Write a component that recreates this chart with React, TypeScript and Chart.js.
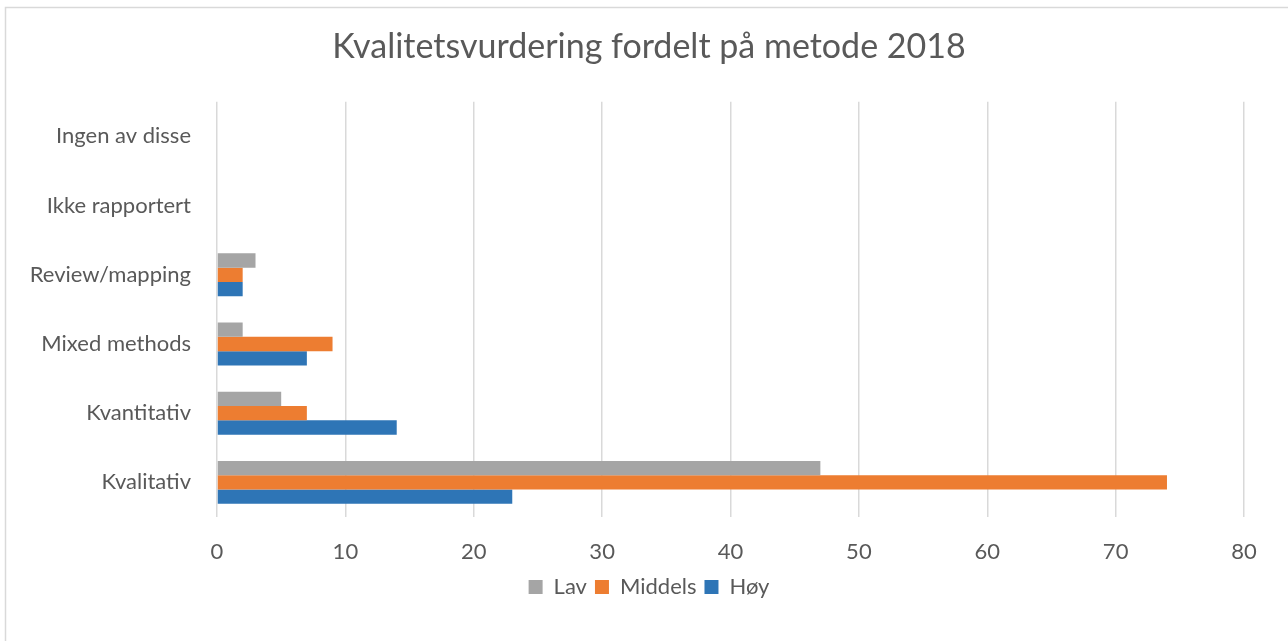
import React, { useEffect, useRef } from "react";
import { Chart, registerables } from "chart.js";

Chart.register(...registerables);

const categories = ["Ingen av disse", "Ikke rapportert", "Review/mapping", "Mixed methods", "Kvantitativ", "Kvalitativ"];
const lavValues = [0, 0, 3, 2, 5, 47];
const middelsValues = [0, 0, 2, 9, 7, 74];
const hoyValues = [0, 0, 2, 7, 14, 23];
const seriesNames = ["Lav", "Middels", "Høy"];
const seriesColors = ["#A5A5A5", "#ED7D31", "#2E75B6"];
const titleText = "Kvalitetsvurdering fordelt på metode 2018";
const xMax = 80;
const xStep = 10;

const FONT = "Lato, 'Open Sans', sans-serif";
const TEXT = "#595959";
const CANVAS_W = 1298;

const frame = {
  id: "frame",
  beforeDraw(chart: any) {
    const ctx = chart.ctx;
    ctx.save();
    ctx.fillStyle = "#ffffff";
    ctx.fillRect(0, 0, chart.width, chart.height);
    ctx.strokeStyle = "#D9D9D9";
    ctx.lineWidth = 1.5;
    ctx.beginPath();
    ctx.moveTo(5.5, chart.height);
    ctx.lineTo(5.5, 7.5);
    ctx.lineTo(chart.width, 7.5);
    ctx.stroke();
    ctx.restore();
  },
};

export default function App() {
  const ref = useRef<HTMLCanvasElement>(null);
  useEffect(() => {
    if (!ref.current) return;
    const chart = new Chart(ref.current, {
      type: "bar",
      data: {
        labels: categories,
        datasets: [lavValues, middelsValues, hoyValues].map((d, i) => ({
          label: seriesNames[i],
          data: d,
          backgroundColor: seriesColors[i],
          borderWidth: 0,
          barPercentage: 1,
          categoryPercentage: 0.62,
        })),
      },
      plugins: [frame],
      options: {
        indexAxis: "y",
        animation: false,
        responsive: false,
        maintainAspectRatio: false,
        layout: { padding: { left: 0, right: 0, top: 0, bottom: 33 } },
        plugins: {
          title: {
            display: true,
            text: titleText,
            color: TEXT,
            font: { family: FONT, size: 34, weight: "normal" },
            padding: { top: 27, bottom: 34 },
          },
          legend: {
            position: "bottom",
            labels: {
              color: TEXT,
              font: { family: FONT, size: 22 },
              boxWidth: 14,
              boxHeight: 14,
              padding: 8,
            },
          },
          tooltip: { enabled: false },
        },
        scales: {
          x: {
            min: 0,
            max: xMax,
            ticks: { stepSize: xStep, color: TEXT, font: { family: FONT, size: 22 }, padding: 22 },
            grid: { color: "#D9D9D9", lineWidth: 1.5, drawTicks: false },
            border: { display: false },
            afterFit: (s: any) => {
              s.height = 51;
            },
          },
          y: {
            ticks: { color: TEXT, font: { family: FONT, size: 22 }, padding: 26 },
            grid: { display: false, drawTicks: false },
            border: { display: false },
            afterFit: (s: any) => {
              s.width = 217;
            },
          },
          yRight: {
            type: "category",
            position: "right",
            ticks: { display: false },
            grid: { display: false, drawTicks: false },
            border: { display: false },
            afterFit: (s: any) => {
              s.width = 54;
            },
          },
        },
      },
    });
    return () => chart.destroy();
  }, []);
  return (
    <div style={{ position: "absolute", left: 0, top: 0, width: 1288, height: 641, overflow: "hidden" }}>
      <canvas ref={ref} width={CANVAS_W} height={641} style={{ display: "block" }} />
    </div>
  );
}
